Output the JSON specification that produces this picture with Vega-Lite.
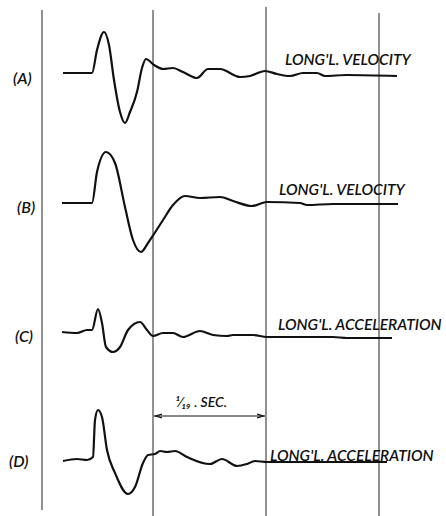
{
  "$schema": "https://vega.github.io/schema/vega-lite/v6.json",
  "autosize": "none",
  "width": 446,
  "height": 516,
  "padding": 0,
  "background": "white",
  "config": {"view": {"stroke": null}},
  "datasets": {
    "grid": [
      {"x": 42, "y1": 10, "y2": 510},
      {"x": 153, "y1": 10, "y2": 516},
      {"x": 266, "y1": 7, "y2": 516},
      {"x": 379, "y1": 13, "y2": 516}
    ],
    "traces": [
      {"trace": "A", "i": 0, "t": 63, "v": 73}, {"trace": "A", "i": 1, "t": 92, "v": 73},
      {"trace": "A", "i": 2, "t": 97, "v": 50}, {"trace": "A", "i": 3, "t": 104, "v": 32},
      {"trace": "A", "i": 4, "t": 109, "v": 45}, {"trace": "A", "i": 5, "t": 114, "v": 80},
      {"trace": "A", "i": 6, "t": 120, "v": 112}, {"trace": "A", "i": 7, "t": 125, "v": 123},
      {"trace": "A", "i": 8, "t": 130, "v": 112}, {"trace": "A", "i": 9, "t": 137, "v": 92},
      {"trace": "A", "i": 10, "t": 142, "v": 68}, {"trace": "A", "i": 11, "t": 146, "v": 59},
      {"trace": "A", "i": 12, "t": 154, "v": 65}, {"trace": "A", "i": 13, "t": 163, "v": 69},
      {"trace": "A", "i": 14, "t": 173, "v": 68}, {"trace": "A", "i": 15, "t": 183, "v": 72},
      {"trace": "A", "i": 16, "t": 197, "v": 78}, {"trace": "A", "i": 17, "t": 208, "v": 69},
      {"trace": "A", "i": 18, "t": 220, "v": 69}, {"trace": "A", "i": 19, "t": 240, "v": 77},
      {"trace": "A", "i": 20, "t": 250, "v": 76}, {"trace": "A", "i": 21, "t": 265, "v": 71},
      {"trace": "A", "i": 22, "t": 277, "v": 74}, {"trace": "A", "i": 23, "t": 290, "v": 76},
      {"trace": "A", "i": 24, "t": 303, "v": 73}, {"trace": "A", "i": 25, "t": 317, "v": 73},
      {"trace": "A", "i": 26, "t": 325, "v": 76}, {"trace": "A", "i": 27, "t": 347, "v": 75},
      {"trace": "A", "i": 28, "t": 397, "v": 76},

      {"trace": "B", "i": 0, "t": 62, "v": 203}, {"trace": "B", "i": 1, "t": 92, "v": 203},
      {"trace": "B", "i": 2, "t": 97, "v": 172}, {"trace": "B", "i": 3, "t": 106, "v": 152},
      {"trace": "B", "i": 4, "t": 115, "v": 163}, {"trace": "B", "i": 5, "t": 125, "v": 207},
      {"trace": "B", "i": 6, "t": 133, "v": 240}, {"trace": "B", "i": 7, "t": 141, "v": 252},
      {"trace": "B", "i": 8, "t": 148, "v": 243}, {"trace": "B", "i": 9, "t": 154, "v": 234},
      {"trace": "B", "i": 10, "t": 163, "v": 220}, {"trace": "B", "i": 11, "t": 173, "v": 205},
      {"trace": "B", "i": 12, "t": 185, "v": 196}, {"trace": "B", "i": 13, "t": 200, "v": 198},
      {"trace": "B", "i": 14, "t": 220, "v": 197}, {"trace": "B", "i": 15, "t": 233, "v": 201},
      {"trace": "B", "i": 16, "t": 252, "v": 206}, {"trace": "B", "i": 17, "t": 267, "v": 202},
      {"trace": "B", "i": 18, "t": 300, "v": 203}, {"trace": "B", "i": 19, "t": 307, "v": 205},
      {"trace": "B", "i": 20, "t": 333, "v": 204}, {"trace": "B", "i": 21, "t": 398, "v": 204},

      {"trace": "C", "i": 0, "t": 62, "v": 332}, {"trace": "C", "i": 1, "t": 77, "v": 333},
      {"trace": "C", "i": 2, "t": 87, "v": 330}, {"trace": "C", "i": 3, "t": 92, "v": 330},
      {"trace": "C", "i": 4, "t": 98, "v": 309}, {"trace": "C", "i": 5, "t": 102, "v": 323},
      {"trace": "C", "i": 6, "t": 106, "v": 347}, {"trace": "C", "i": 7, "t": 113, "v": 352},
      {"trace": "C", "i": 8, "t": 120, "v": 347}, {"trace": "C", "i": 9, "t": 128, "v": 330},
      {"trace": "C", "i": 10, "t": 140, "v": 322}, {"trace": "C", "i": 11, "t": 147, "v": 330},
      {"trace": "C", "i": 12, "t": 153, "v": 336}, {"trace": "C", "i": 13, "t": 163, "v": 333},
      {"trace": "C", "i": 14, "t": 173, "v": 333}, {"trace": "C", "i": 15, "t": 183, "v": 337},
      {"trace": "C", "i": 16, "t": 200, "v": 331}, {"trace": "C", "i": 17, "t": 213, "v": 335},
      {"trace": "C", "i": 18, "t": 227, "v": 336}, {"trace": "C", "i": 19, "t": 233, "v": 335},
      {"trace": "C", "i": 20, "t": 253, "v": 335}, {"trace": "C", "i": 21, "t": 267, "v": 337},
      {"trace": "C", "i": 22, "t": 333, "v": 337}, {"trace": "C", "i": 23, "t": 347, "v": 338},
      {"trace": "C", "i": 24, "t": 392, "v": 338},

      {"trace": "D", "i": 0, "t": 63, "v": 461}, {"trace": "D", "i": 1, "t": 77, "v": 459},
      {"trace": "D", "i": 2, "t": 87, "v": 460}, {"trace": "D", "i": 3, "t": 93, "v": 457},
      {"trace": "D", "i": 4, "t": 95, "v": 420}, {"trace": "D", "i": 5, "t": 98, "v": 410},
      {"trace": "D", "i": 6, "t": 102, "v": 417}, {"trace": "D", "i": 7, "t": 107, "v": 450},
      {"trace": "D", "i": 8, "t": 115, "v": 473}, {"trace": "D", "i": 9, "t": 128, "v": 494},
      {"trace": "D", "i": 10, "t": 135, "v": 487}, {"trace": "D", "i": 11, "t": 143, "v": 463},
      {"trace": "D", "i": 12, "t": 148, "v": 455}, {"trace": "D", "i": 13, "t": 155, "v": 454},
      {"trace": "D", "i": 14, "t": 160, "v": 451}, {"trace": "D", "i": 15, "t": 167, "v": 452},
      {"trace": "D", "i": 16, "t": 175, "v": 451}, {"trace": "D", "i": 17, "t": 187, "v": 457},
      {"trace": "D", "i": 18, "t": 210, "v": 464}, {"trace": "D", "i": 19, "t": 222, "v": 459},
      {"trace": "D", "i": 20, "t": 237, "v": 466}, {"trace": "D", "i": 21, "t": 247, "v": 464},
      {"trace": "D", "i": 22, "t": 255, "v": 461}, {"trace": "D", "i": 23, "t": 267, "v": 462},
      {"trace": "D", "i": 24, "t": 333, "v": 462}, {"trace": "D", "i": 25, "t": 387, "v": 462}
    ],
    "tags": [
      {"t": 13, "v": 79, "text": "(A)"},
      {"t": 17, "v": 208, "text": "(B)"},
      {"t": 15, "v": 337, "text": "(C)"},
      {"t": 9, "v": 462, "text": "(D)"}
    ],
    "labels": [
      {"t": 285, "v": 60, "text": "LONG'L. VELOCITY"},
      {"t": 279, "v": 190, "text": "LONG'L. VELOCITY"},
      {"t": 278, "v": 325, "text": "LONG'L. ACCELERATION"},
      {"t": 270, "v": 456, "text": "LONG'L. ACCELERATION"}
    ],
    "note": [{"t": 175, "v": 403, "text": "¹⁄₁₉ . SEC."}],
    "span": [{"t1": 154, "t2": 265, "v": 416}],
    "heads": [
      {"t": 158, "v": 416, "dir": "left"},
      {"t": 261, "v": 416, "dir": "right"}
    ]
  },
  "layer": [
    {
      "data": {"name": "grid"},
      "mark": {"type": "rule", "stroke": "#222", "strokeWidth": 1},
      "encoding": {
        "x": {"field": "x", "type": "quantitative", "scale": {"domain": [0, 446], "nice": false, "zero": false}, "axis": null},
        "y": {"field": "y1", "type": "quantitative", "scale": {"domain": [0, 516], "reverse": true, "nice": false, "zero": false}, "axis": null},
        "y2": {"field": "y2"}
      }
    },
    {
      "data": {"name": "traces"},
      "mark": {"type": "line", "stroke": "#111", "strokeWidth": 2.2, "interpolate": "monotone"},
      "encoding": {
        "x": {"field": "t", "type": "quantitative"},
        "y": {"field": "v", "type": "quantitative"},
        "detail": {"field": "trace"},
        "order": {"field": "i"}
      }
    },
    {
      "data": {"name": "span"},
      "mark": {"type": "rule", "stroke": "#111", "strokeWidth": 1},
      "encoding": {
        "x": {"field": "t1", "type": "quantitative"},
        "x2": {"field": "t2"},
        "y": {"field": "v", "type": "quantitative"}
      }
    },
    {
      "data": {"name": "heads"},
      "transform": [{"filter": "datum.dir == 'left'"}],
      "mark": {"type": "point", "shape": "M 1 -0.5 L -0.6 0 L 1 0.5", "filled": false, "stroke": "#111", "strokeWidth": 1.2, "size": 60, "opacity": 1},
      "encoding": {
        "x": {"field": "t", "type": "quantitative"},
        "y": {"field": "v", "type": "quantitative"}
      }
    },
    {
      "data": {"name": "heads"},
      "transform": [{"filter": "datum.dir == 'right'"}],
      "mark": {"type": "point", "shape": "M -1 -0.5 L 0.6 0 L -1 0.5", "filled": false, "stroke": "#111", "strokeWidth": 1.2, "size": 60, "opacity": 1},
      "encoding": {
        "x": {"field": "t", "type": "quantitative"},
        "y": {"field": "v", "type": "quantitative"}
      }
    },
    {
      "data": {"name": "tags"},
      "mark": {"type": "text", "align": "left", "baseline": "middle", "font": "Lato", "fontStyle": "italic", "fontWeight": 600, "fontSize": 16, "fill": "#111"},
      "encoding": {
        "x": {"field": "t", "type": "quantitative"},
        "y": {"field": "v", "type": "quantitative"},
        "text": {"field": "text"}
      }
    },
    {
      "data": {"name": "labels"},
      "mark": {"type": "text", "align": "left", "baseline": "middle", "font": "Lato", "fontStyle": "italic", "fontWeight": 600, "fontSize": 15.5, "fill": "#111"},
      "encoding": {
        "x": {"field": "t", "type": "quantitative"},
        "y": {"field": "v", "type": "quantitative"},
        "text": {"field": "text"}
      }
    },
    {
      "data": {"name": "note"},
      "mark": {"type": "text", "align": "left", "baseline": "middle", "font": "Lato", "fontStyle": "italic", "fontWeight": 600, "fontSize": 14, "fill": "#111"},
      "encoding": {
        "x": {"field": "t", "type": "quantitative"},
        "y": {"field": "v", "type": "quantitative"},
        "text": {"field": "text"}
      }
    }
  ]
}
